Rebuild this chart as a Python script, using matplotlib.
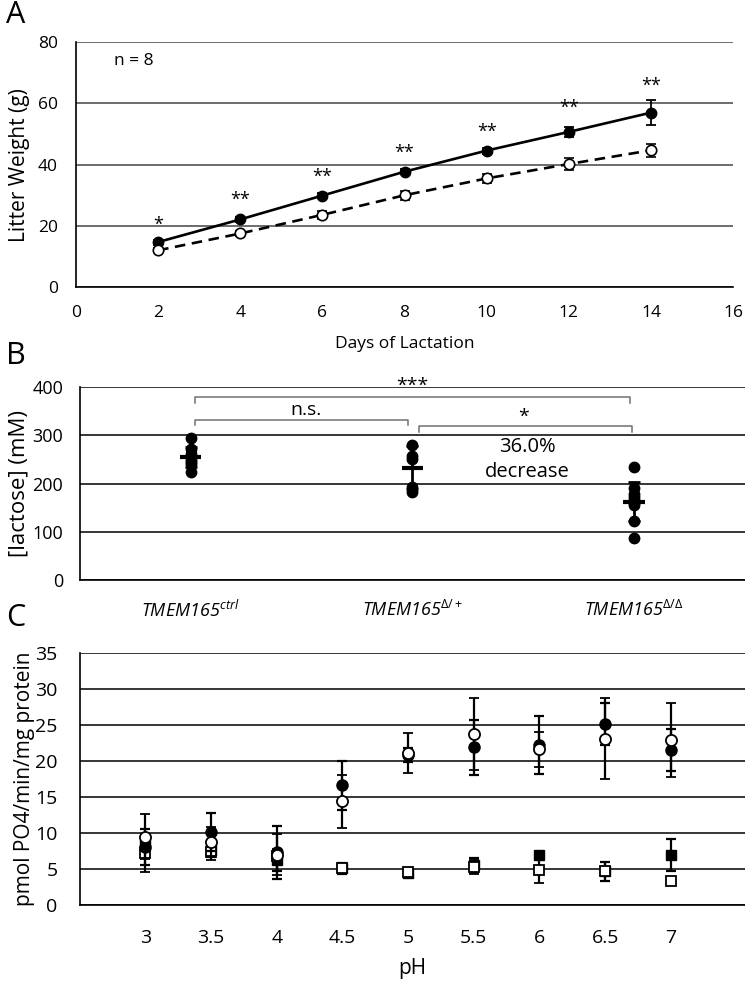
import numpy as np
import matplotlib
matplotlib.use('Agg')
import matplotlib.pyplot as plt

plt.rcParams['font.family'] = ['Open Sans', 'DejaVu Sans']
plt.rcParams['mathtext.fontset'] = 'custom'
plt.rcParams['mathtext.rm'] = 'Open Sans'
plt.rcParams['mathtext.it'] = 'Open Sans:italic'

# ---- panel A data
days = [2, 4, 6, 8, 10, 12, 14]
wt_ctrl = [14.7, 22.1, 29.9, 37.7, 44.6, 50.7, 57.0]
wt_ctrl_err = [0.8, 0.8, 0.9, 0.9, 1.0, 1.7, 4.0]
wt_ko = [12.0, 17.5, 23.6, 30.0, 35.5, 40.2, 44.7]
wt_ko_err = [0.6, 0.9, 1.3, 1.5, 1.5, 2.0, 2.2]
stars_A = ['*', '**', '**', '**', '**', '**', '**']
stars_A_y = [20.2, 28.4, 36.0, 43.7, 50.8, 58.5, 65.8]

# ---- panel B data
groups = ['ctrl', 'Δ/+', 'Δ/Δ']
lac_ctrl = [294, 272, 262, 255, 250, 245, 240, 224]
lac_het = [281, 258, 252, 193, 183]
lac_ko = [234, 190, 178, 172, 165, 160, 155, 122, 88]
lac_err = [20, 45, 40]

# ---- panel C data
ph_labels = ['3', '3.5', '4', '4.5', '5', '5.5', '6', '6.5', '7']
fc = [8.0, 10.1, 7.3, 16.6, 20.8, 21.9, 22.2, 25.1, 21.5]
fc_err = [2.5, 2.6, 3.7, 3.4, 1.0, 3.8, 4.0, 2.9, 2.9]
oc = [9.5, 8.8, 7.0, 14.4, 21.1, 23.7, 21.6, 23.1, 22.9]
oc_err = [3.1, 2.0, 2.8, 3.7, 2.8, 5.0, 2.4, 5.6, 5.1]
fs = [8.3, 7.6, 6.2, 5.1, 4.5, 5.5, 6.9, 4.7, 6.9]
fs_err = [1.0, 1.0, 1.5, 0.8, 0.6, 1.0, 0.5, 1.3, 2.2]
os_ = [7.2, 7.3, 6.8, 5.1, 4.6, 5.3, 4.9, 4.7, 3.4]
os_err = [2.6, 1.0, 1.0, 0.8, 0.6, 1.0, 1.8, 1.3, 0.5]


def style_axes(ax, grid_color='black'):
    ax.spines['top'].set_visible(False)
    ax.spines['right'].set_visible(False)
    ax.spines['left'].set_linewidth(1.2)
    ax.spines['bottom'].set_linewidth(1.2)
    ax.yaxis.grid(True, color=grid_color, linewidth=1.1)
    ax.set_axisbelow(True)
    ax.tick_params(length=0)


fig = plt.figure(figsize=(7.45, 9.83), dpi=100)

# ================= A
axA = fig.add_axes([0.102, 0.708, 0.882, 0.249])
style_axes(axA, '#444444')
axA.errorbar(days, wt_ctrl, yerr=wt_ctrl_err, fmt='-o', color='black', lw=1.9,
             ms=7.5, capsize=3.5, elinewidth=1.3, capthick=1.3, zorder=3)
axA.errorbar(days, wt_ko, yerr=wt_ko_err, fmt='--o', color='black', lw=1.9,
             ms=7.5, mfc='white', mew=1.2, capsize=3.5, elinewidth=1.3,
             capthick=1.3, dashes=(4, 2.5), zorder=3)
for d, s, y in zip(days, stars_A, stars_A_y):
    axA.text(d, y, s, ha='center', va='center', fontsize=13)
axA.text(1.4, 73.8, 'n = 8', ha='center', va='center', fontsize=12.5)
axA.set_xlim(0, 16)
axA.set_ylim(0, 80)
axA.set_xticks(range(0, 17, 2))
axA.set_yticks(range(0, 81, 20))
axA.set_ylabel('Litter Weight (g)', fontsize=15, labelpad=6)
axA.set_xlabel('Days of Lactation', fontsize=12.5, labelpad=11)
for lab in axA.get_xticklabels() + axA.get_yticklabels():
    lab.set_fontsize(12.5)
axA.tick_params(axis='y', pad=13)
axA.tick_params(axis='x', pad=13)
fig.text(0.008, 0.985, 'A', fontsize=22, va='center')

# ================= B
axB = fig.add_axes([0.107, 0.410, 0.893, 0.196])
style_axes(axB)
xpos = [0.5, 1.5, 2.5]
for x, vals, e in zip(xpos, [lac_ctrl, lac_het, lac_ko], lac_err):
    m = np.mean(vals)
    axB.plot([x] * len(vals), vals, 'o', color='black', ms=7.5, zorder=3)
    axB.errorbar(x, m, yerr=e, color='black', capsize=4, elinewidth=2,
                 capthick=2, zorder=4)
    axB.hlines(m, x - 0.048, x + 0.048, color='black', lw=3, zorder=4)

br = '#707070'


def bracket(x0, x1, y, h):
    axB.plot([x0, x0, x1, x1], [y - h, y, y, y - h], color=br, lw=1.1,
             clip_on=False, zorder=2)


bracket(0.52, 2.48, 379, 11)
bracket(0.52, 1.48, 333, 11)
bracket(1.53, 2.49, 319, 12)
axB.text(1.5, 404, '***', ha='center', va='center', fontsize=14)
axB.text(1.02, 353, 'n.s.', ha='center', va='center', fontsize=14)
axB.text(2.0, 338, '*', ha='center', va='center', fontsize=14)
axB.text(2.02, 250, '36.0%\ndecrease', ha='center', va='center', fontsize=14.5,
         linespacing=1.35)
axB.set_xlim(0, 3)
axB.set_ylim(0, 400)
axB.set_yticks(range(0, 401, 100))
axB.set_xticks(xpos)
axB.set_xticklabels([r'TMEM165$^{\mathit{' + g + '}}$' for g in groups],
                    fontsize=13, fontstyle='italic')
for lab in axB.get_yticklabels():
    lab.set_fontsize(13)
axB.tick_params(axis='x', pad=14)
axB.tick_params(axis='y', pad=12)
axB.set_ylabel('[lactose] (mM)', fontsize=16, labelpad=2)
fig.text(0.008, 0.638, 'B', fontsize=22, va='center')

# ================= C
axC = fig.add_axes([0.107, 0.0793, 0.893, 0.2567])
style_axes(axC)
xc = np.arange(1, len(ph_labels) + 1)
ekw = dict(color='black', capsize=3.5, elinewidth=1.6, capthick=1.6, ls='none')
axC.errorbar(xc, fs, yerr=fs_err, fmt='s', ms=7.5, **ekw, zorder=3)
axC.errorbar(xc, os_, yerr=os_err, fmt='s', ms=7.5, mfc='white', mew=1.3, **ekw, zorder=4)
axC.errorbar(xc, fc, yerr=fc_err, fmt='o', ms=8, **ekw, zorder=5)
axC.errorbar(xc, oc, yerr=oc_err, fmt='o', ms=8, mfc='white', mew=1.3, **ekw, zorder=6)
axC.set_xlim(0, 10.13)
axC.set_ylim(0, 35)
axC.set_yticks(range(0, 36, 5))
axC.set_xticks(xc)
axC.set_xticklabels(ph_labels)
for lab in axC.get_xticklabels() + axC.get_yticklabels():
    lab.set_fontsize(14)
axC.tick_params(axis='x', pad=17)
axC.tick_params(axis='y', pad=16)
axC.set_xlabel('pH', fontsize=15, labelpad=8)
axC.set_ylabel('pmol PO4/min/mg protein', fontsize=15, labelpad=0)
fig.text(0.008, 0.371, 'C', fontsize=22, va='center')

fig.savefig('out.png', dpi=100)
